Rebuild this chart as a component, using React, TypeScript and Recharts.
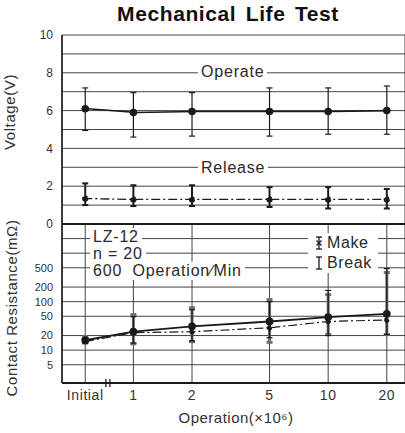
import React from 'react';
import {
  ComposedChart,
  Line,
  XAxis,
  YAxis,
  CartesianGrid,
  ErrorBar,
  ReferenceLine,
  ReferenceDot,
} from 'recharts';

// x categories and where each sits on the log "operations" axis
// (Initial is drawn left of the axis break)
const categories = ['Initial', '1', '2', '5', '10', '20'];
const opsPos = [0.566, 1, 2, 5, 10, 20];
const axisBreakAt = 0.74;

// Voltage (V)
const operateMean = [6.1, 5.9, 5.95, 5.95, 5.95, 6.0];
const operateLow = [4.95, 4.6, 4.65, 4.65, 4.75, 4.75];
const operateHigh = [7.2, 6.95, 6.95, 7.2, 7.2, 7.3];
const releaseMean = [1.35, 1.3, 1.3, 1.3, 1.3, 1.3];
const releaseLow = [1.0, 0.95, 0.95, 0.9, 0.82, 0.82];
const releaseHigh = [2.15, 2.05, 2.05, 1.95, 1.95, 1.85];

// Contact resistance (mOhm)
const makeMean = [16, 24, 31, 39, 48, 56];
const makeLow = [14, 13.5, 15, 14.5, 21, 21];
const makeHigh = [19, 54, 75, 110, 140, 400];
const breakMean = [15, 23, 24, 29, 39, 42];
const breakLow = [14, 14, 15.5, 18, 20, 21];
const breakHigh = [18, 49, 68, 100, 170, 480];

const voltTicks = [0, 1, 2, 3, 4, 5, 6, 7, 8, 9, 10];
const resTicks = [5, 10, 20, 50, 100, 200, 500, 1000, 2000];

const rows = categories.map((c, i) => ({
  name: c,
  x: opsPos[i],
  operate: operateMean[i],
  operateErr: [operateMean[i] - operateLow[i], operateHigh[i] - operateMean[i]],
  release: releaseMean[i],
  releaseErr: [releaseMean[i] - releaseLow[i], releaseHigh[i] - releaseMean[i]],
  make: makeMean[i],
  makeErr: [makeMean[i] - makeLow[i], makeHigh[i] - makeMean[i]],
  brk: breakMean[i],
  brkErr: [breakMean[i] - breakLow[i], breakHigh[i] - breakMean[i]],
}));

const font = '"Liberation Sans", Arial, sans-serif';
const ink = '#1a1a1a';
const gridColor = '#444';

const xDomain: [number, number] = [0.43, 24.8];

const css = `
.op-line { transform: translateX(3px); }
.rel-line { transform: translateX(-2px); }
.make-line .recharts-errorBar { transform: translateX(-4px); }
.brk-line .recharts-errorBar { transform: translateX(3px); }
`;

const Note: React.FC<{ left: number; cy: number; children: React.ReactNode; size?: number }> = ({
  left,
  cy,
  children,
  size = 16,
}) => (
  <div
    style={{
      position: 'absolute',
      left,
      top: cy - 9,
      height: 18,
      lineHeight: '18px',
      fontSize: size,
      color: '#2a2a2a',
      background: '#fff',
      padding: '0 3px',
      whiteSpace: 'nowrap',
      letterSpacing: 0.8,
    }}
  >
    {children}
  </div>
);

const VLabel: React.FC<{ cx: number; cy: number; text: string }> = ({ cx, cy, text }) => (
  <div
    style={{
      position: 'absolute',
      left: cx - 120,
      top: cy - 9,
      width: 240,
      height: 18,
      lineHeight: '18px',
      textAlign: 'center',
      fontSize: 15,
      color: '#333',
      letterSpacing: 0.6,
      transform: 'rotate(-90deg)',
      whiteSpace: 'nowrap',
    }}
  >
    {text}
  </div>
);

const BreakMark = (props: any) => {
  const { cx, cy } = props;
  return (
    <g stroke={ink} strokeWidth={1.3}>
      <line x1={cx - 2} y1={cy - 4} x2={cx - 2} y2={cy + 4} />
      <line x1={cx + 2} y1={cy - 4} x2={cx + 2} y2={cy + 4} />
    </g>
  );
};

const App: React.FC = () => {
  return (
    <div
      style={{
        position: 'absolute',
        left: 0,
        top: 0,
        width: 405,
        height: 433,
        background: '#fff',
        fontFamily: font,
        overflow: 'hidden',
      }}
    >
      <style>{css}</style>

      <div
        style={{
          position: 'absolute',
          left: 108,
          top: 2,
          width: 240,
          textAlign: 'center',
          fontSize: 21,
          fontWeight: 'bold',
          letterSpacing: 0.6,
          wordSpacing: 3,
          color: '#111',
          whiteSpace: 'nowrap',
        }}
      >
        Mechanical Life Test
      </div>

      {/* Contact resistance panel */}
      <div style={{ position: 'absolute', left: 0, top: 220 }}>
        <ComposedChart width={405} height={213} data={rows} margin={{ top: 4, right: 0, bottom: 0, left: 0 }}>
          <CartesianGrid stroke={gridColor} strokeWidth={1} />
          <XAxis
            dataKey="x"
            type="number"
            scale="log"
            domain={xDomain}
            ticks={opsPos}
            interval={0}
            allowDataOverflow
            height={50}
            tickFormatter={(v: number) => categories[opsPos.indexOf(v)] ?? ''}
            axisLine={{ stroke: ink, strokeWidth: 2 }}
            tickLine={false}
            tickSize={0}
            tickMargin={7}
            tick={{ fontSize: 14, fill: '#333', fontFamily: font, letterSpacing: 0.6 }}
          />
          <YAxis
            type="number"
            scale="log"
            domain={[2.1, 4000]}
            allowDataOverflow
            ticks={resTicks}
            interval={0}
            width={62}
            tickFormatter={(v: number) => (v <= 500 ? String(v) : '')}
            axisLine={{ stroke: ink, strokeWidth: 1.5 }}
            tickLine={false}
            tickSize={0}
            tickMargin={9}
            tick={{ fontSize: 11, fill: '#333', fontFamily: font }}
          />
          <ReferenceDot x={axisBreakAt} y={2.1} ifOverflow="visible" shape={BreakMark} />
          <Line
            className="make-line"
            dataKey="make"
            stroke={ink}
            strokeWidth={1.8}
            dot={{ r: 3, fill: ink, stroke: ink }}
            activeDot={false}
            isAnimationActive={false}
          >
            <ErrorBar dataKey="makeErr" width={3} stroke="#6e6e6e" strokeWidth={3} />
          </Line>
          <Line
            className="brk-line"
            dataKey="brk"
            stroke={ink}
            strokeWidth={1.2}
            strokeDasharray="9 3 2 3"
            dot={{ r: 2, fill: ink, stroke: ink }}
            activeDot={false}
            isAnimationActive={false}
          >
            <ErrorBar dataKey="brkErr" width={3} stroke={ink} strokeWidth={1.2} />
          </Line>
        </ComposedChart>
      </div>

      {/* Voltage panel */}
      <div style={{ position: 'absolute', left: 0, top: 0 }}>
        <ComposedChart width={405} height={240} data={rows} margin={{ top: 35, right: 0, bottom: 16, left: 0 }}>
          <CartesianGrid stroke={gridColor} strokeWidth={1} />
          <XAxis
            dataKey="x"
            type="number"
            scale="log"
            domain={xDomain}
            ticks={opsPos}
            allowDataOverflow
            height={0}
            axisLine={false}
            tickLine={false}
            tick={false}
          />
          <YAxis
            type="number"
            domain={[0, 10]}
            ticks={voltTicks}
            interval={0}
            width={62}
            tickFormatter={(v: number) => (v % 2 === 0 ? String(v) : '')}
            axisLine={{ stroke: ink, strokeWidth: 1.5 }}
            tickLine={false}
            tickSize={0}
            tickMargin={9}
            tick={{ fontSize: 12, fill: '#333', fontFamily: font }}
          />
          <ReferenceLine y={0} stroke={ink} strokeWidth={2} />
          <Line
            className="op-line"
            dataKey="operate"
            stroke={ink}
            strokeWidth={1.6}
            dot={{ r: 3, fill: ink, stroke: ink }}
            activeDot={false}
            isAnimationActive={false}
          >
            <ErrorBar dataKey="operateErr" width={3} stroke={ink} strokeWidth={1.2} />
          </Line>
          <Line
            className="rel-line"
            dataKey="release"
            stroke={ink}
            strokeWidth={1.3}
            strokeDasharray="9 3 2 3"
            dot={{ r: 2.5, fill: ink, stroke: ink }}
            activeDot={false}
            isAnimationActive={false}
          >
            <ErrorBar dataKey="releaseErr" width={3} stroke={ink} strokeWidth={2} />
          </Line>
        </ComposedChart>
      </div>

      {/* in-plot labels */}
      <Note left={198} cy={72}>Operate</Note>
      <Note left={198} cy={168}>Release</Note>
      <Note left={90} cy={237}>LZ-12</Note>
      <Note left={90} cy={254}>n = 20</Note>
      <Note left={90} cy={271}>
        600&nbsp; Operation∕Min
      </Note>

      {/* legend */}
      <div
        style={{
          position: 'absolute',
          left: 308,
          top: 233,
          width: 70,
          height: 40,
          background: '#fff',
        }}
      >
        <svg width={14} height={40} style={{ position: 'absolute', left: 4, top: 0 }}>
          <g stroke={ink} strokeWidth={1.3}>
            <line x1={7} y1={4} x2={7} y2={16} />
            <line x1={4} y1={4} x2={10} y2={4} />
            <line x1={4} y1={16} x2={10} y2={16} />
            <line x1={4.5} y1={7.5} x2={9.5} y2={12.5} />
            <line x1={9.5} y1={7.5} x2={4.5} y2={12.5} />
            <line x1={7} y1={24} x2={7} y2={36} />
            <line x1={4} y1={24} x2={10} y2={24} />
            <line x1={4} y1={36} x2={10} y2={36} />
          </g>
        </svg>
        <div style={{ position: 'absolute', left: 19, top: 1, fontSize: 16, lineHeight: '18px', color: '#2a2a2a', letterSpacing: 0.6 }}>
          Make
        </div>
        <div style={{ position: 'absolute', left: 19, top: 21, fontSize: 16, lineHeight: '18px', color: '#2a2a2a', letterSpacing: 0.6 }}>
          Break
        </div>
      </div>

      <VLabel cx={10} cy={112} text="Voltage(V)" />
      <VLabel cx={12} cy={308} text="Contact  Resistance(mΩ)" />

      <div
        style={{
          position: 'absolute',
          left: 136,
          top: 409,
          width: 200,
          textAlign: 'center',
          fontSize: 15,
          color: '#333',
          letterSpacing: 0.5,
          whiteSpace: 'nowrap',
        }}
      >
        Operation(×10⁶)
      </div>
    </div>
  );
};

export default App;
